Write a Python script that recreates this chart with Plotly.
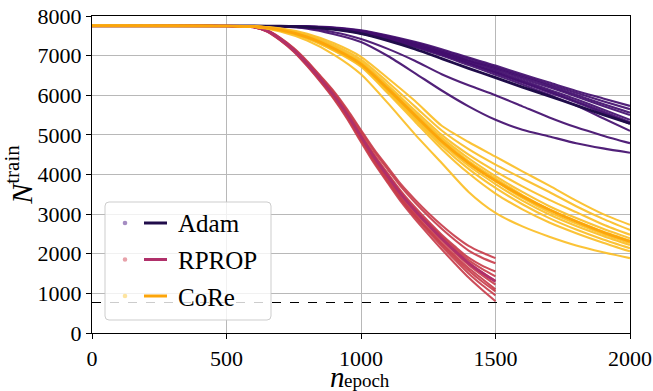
import numpy as np
import plotly.graph_objects as go

# ---------------- data ----------------
threshold = 770

adam_x = [0, 500, 600, 700, 800, 900, 1000, 1100, 1200, 1300, 1400, 1500, 1600, 1700, 1800, 1900, 2000]
adam_runs = [
    [7750, 7749, 7748, 7747, 7738, 7710, 7640, 7510, 7350, 7160, 6950, 6750, 6530, 6320, 6110, 5920, 5730],
    [7750, 7749, 7748, 7746, 7735, 7700, 7625, 7490, 7330, 7130, 6920, 6710, 6490, 6280, 6060, 5850, 5650],
    [7750, 7749, 7748, 7745, 7733, 7695, 7610, 7470, 7300, 7100, 6880, 6680, 6460, 6240, 6010, 5780, 5560],
    [7750, 7749, 7748, 7745, 7730, 7690, 7600, 7460, 7290, 7090, 6870, 6650, 6420, 6200, 5970, 5730, 5500],
    [7750, 7749, 7748, 7744, 7728, 7685, 7590, 7440, 7270, 7060, 6840, 6610, 6380, 6140, 5900, 5640, 5380],
    [7750, 7749, 7748, 7744, 7726, 7680, 7585, 7430, 7250, 7040, 6810, 6580, 6340, 6100, 5850, 5590, 5320],
    [7750, 7749, 7748, 7743, 7724, 7675, 7575, 7420, 7240, 7030, 6800, 6560, 6320, 6070, 5820, 5550, 5280],
    [7750, 7749, 7748, 7742, 7720, 7665, 7560, 7400, 7220, 7000, 6760, 6520, 6270, 6010, 5740, 5420, 5100],
    [7750, 7749, 7747, 7740, 7700, 7590, 7420, 7170, 6870, 6530, 6250, 6000, 5720, 5440, 5190, 4980, 4790],
    [7750, 7749, 7747, 7735, 7680, 7540, 7345, 6990, 6560, 6120, 5720, 5380, 5130, 4960, 4790, 4660, 4550],
]

rprop_x = [0, 500, 600, 650, 700, 750, 800, 850, 900, 950, 1000, 1050, 1100, 1150, 1200, 1250, 1300, 1350, 1400, 1450, 1500]
rprop_runs = [
    [7750, 7748, 7728, 7645, 7450, 7190, 6860, 6480, 6090, 5630, 5120, 4620, 4180, 3740, 3370, 3030, 2720, 2440, 2200, 2030, 1890],
    [7750, 7748, 7726, 7640, 7440, 7175, 6840, 6460, 6060, 5590, 5080, 4570, 4120, 3680, 3300, 2950, 2630, 2340, 2080, 1900, 1760],
    [7750, 7748, 7727, 7635, 7430, 7165, 6820, 6435, 6030, 5550, 5010, 4490, 4020, 3570, 3180, 2820, 2480, 2180, 1900, 1700, 1550],
    [7750, 7748, 7725, 7632, 7425, 7155, 6810, 6420, 6010, 5530, 4990, 4460, 3990, 3530, 3140, 2780, 2440, 2130, 1840, 1620, 1430],
    [7750, 7748, 7724, 7628, 7418, 7148, 6800, 6410, 6000, 5515, 4970, 4440, 3960, 3500, 3100, 2740, 2400, 2080, 1780, 1530, 1300],
    [7750, 7748, 7723, 7625, 7412, 7140, 6790, 6395, 5980, 5490, 4940, 4400, 3920, 3460, 3060, 2700, 2350, 2020, 1720, 1460, 1220],
    [7750, 7748, 7722, 7620, 7405, 7130, 6775, 6380, 5950, 5460, 4900, 4360, 3870, 3400, 3000, 2630, 2280, 1950, 1640, 1370, 1100],
    [7750, 7748, 7721, 7618, 7398, 7120, 6765, 6365, 5935, 5440, 4880, 4340, 3850, 3380, 2970, 2600, 2240, 1900, 1580, 1300, 1050],
    [7750, 7748, 7720, 7615, 7392, 7110, 6750, 6350, 5920, 5420, 4860, 4310, 3820, 3350, 2940, 2560, 2190, 1840, 1500, 1210, 950],
    [7750, 7748, 7719, 7610, 7385, 7100, 6735, 6330, 5895, 5390, 4820, 4270, 3780, 3300, 2880, 2490, 2110, 1750, 1400, 1090, 800],
]

core_x = [0, 500, 600, 700, 800, 900, 1000, 1100, 1200, 1300, 1400, 1500, 1600, 1700, 1800, 1900, 2000]
core_runs = [
    [7750, 7748, 7742, 7690, 7550, 7310, 6970, 6430, 5860, 5230, 4820, 4450, 4080, 3720, 3340, 3000, 2730],
    [7750, 7748, 7740, 7680, 7520, 7260, 6900, 6330, 5720, 5110, 4640, 4250, 3900, 3560, 3200, 2880, 2600],
    [7750, 7748, 7738, 7665, 7495, 7220, 6850, 6250, 5620, 5000, 4500, 4080, 3700, 3360, 3050, 2740, 2480],
    [7750, 7748, 7736, 7655, 7480, 7195, 6820, 6210, 5560, 4930, 4410, 3960, 3560, 3200, 2900, 2630, 2390],
    [7750, 7748, 7735, 7650, 7470, 7180, 6800, 6180, 5520, 4880, 4340, 3900, 3480, 3120, 2830, 2560, 2330],
    [7750, 7748, 7734, 7645, 7460, 7165, 6780, 6150, 5480, 4830, 4280, 3830, 3410, 3050, 2760, 2500, 2270],
    [7750, 7748, 7733, 7640, 7450, 7150, 6760, 6120, 5440, 4780, 4220, 3760, 3340, 2990, 2700, 2450, 2220],
    [7750, 7748, 7732, 7635, 7440, 7135, 6740, 6090, 5400, 4720, 4140, 3660, 3250, 2900, 2610, 2360, 2140],
    [7750, 7748, 7731, 7630, 7430, 7120, 6720, 6050, 5340, 4640, 4030, 3520, 3120, 2790, 2520, 2280, 2060],
    [7750, 7748, 7728, 7610, 7380, 7020, 6530, 5800, 5020, 4290, 3560, 3030, 2690, 2430, 2210, 2040, 1890],
]

labels = ["Adam", "RPROP", "CoRe"]
x_ticks = [0, 500, 1000, 1500, 2000]
y_ticks = [0, 1000, 2000, 3000, 4000, 5000, 6000, 7000, 8000]
x_title_main, x_title_sub = "n", "epoch"
y_title = "<i>N</i><sup>train</sup>"

# ---------------- style ----------------
run_colors = ["rgba(66,14,110,0.92)", "rgba(200,62,76,0.92)", "rgba(251,190,38,0.92)"]
mean_colors = ["#200c4a", "#b0306a", "#fca50a"]
dot_colors = ["#a58dc2", "#e8a2aa", "#fde4a0"]
FONT = "Liberation Serif"

W, H = 653, 391
L, R, T, B = 92, 23, 16, 58
PW, PH = W - L - R, H - T - B

def px(xp):
    return (xp - L) / PW

def py(yp):
    return (H - B - yp) / PH

fig = go.Figure()

groups = [(adam_x, adam_runs), (rprop_x, rprop_runs), (core_x, core_runs)]
for gi, (xs, runs) in enumerate(groups):
    for run in runs:
        fig.add_trace(go.Scatter(x=xs, y=run, mode="lines", showlegend=False,
                                 line=dict(color=run_colors[gi], width=2.1, shape="spline", smoothing=0.7),
                                 hoverinfo="skip"))
    mean = np.mean(np.array(runs), axis=0)
    fig.add_trace(go.Scatter(x=xs, y=mean, mode="lines", showlegend=False,
                             line=dict(color=mean_colors[gi], width=2.8, shape="spline", smoothing=0.7),
                             hoverinfo="skip"))

fig.add_trace(go.Scatter(x=[x_ticks[0], x_ticks[-1]], y=[threshold, threshold], mode="lines",
                         showlegend=False, line=dict(color="black", width=1.1, dash="dash"),
                         hoverinfo="skip"))

# ---------------- manual legend ----------------
bx0, bx1, by0, by1 = 105, 271, 202, 320
r = 4
rx, ry = r / PW, r / PH
X0, X1, Yt, Yb = px(bx0), px(bx1), py(by0), py(by1)
path = (f"M {X0+rx},{Yt} L {X1-rx},{Yt} Q {X1},{Yt} {X1},{Yt-ry} "
        f"L {X1},{Yb+ry} Q {X1},{Yb} {X1-rx},{Yb} L {X0+rx},{Yb} Q {X0},{Yb} {X0},{Yb+ry} "
        f"L {X0},{Yt-ry} Q {X0},{Yt} {X0+rx},{Yt} Z")
shapes = [dict(type="path", path=path, xref="paper", yref="paper",
               fillcolor="rgba(255,255,255,0.8)", line=dict(color="rgba(200,200,200,0.9)", width=1),
               layer="above")]
annotations = []
rows = [223, 259.5, 296]
for i, lab in enumerate(labels):
    yc = rows[i]
    shapes.append(dict(type="circle", xref="paper", yref="paper",
                       x0=px(125 - 2.3), x1=px(125 + 2.3), y0=py(yc + 2.3), y1=py(yc - 2.3),
                       fillcolor=dot_colors[i], line=dict(width=0), layer="above"))
    shapes.append(dict(type="line", xref="paper", yref="paper",
                       x0=px(144), x1=px(167), y0=py(yc), y1=py(yc),
                       line=dict(color=mean_colors[i], width=3), layer="above"))
    annotations.append(dict(text=lab, xref="paper", yref="paper", x=px(176), y=py(yc + 1),
                            xanchor="left", yanchor="middle", showarrow=False,
                            font=dict(family=FONT, size=25, color="black")))

# x-axis title (italic n with subscript) placed explicitly
annotations.append(dict(text=f"<i>{x_title_main}</i>", xref="paper", yref="paper", x=px(346), y=py(377),
                        xanchor="right", yanchor="middle", showarrow=False, borderpad=0,
                        font=dict(family=FONT, size=29, color="black")))
annotations.append(dict(text=x_title_sub, xref="paper", yref="paper", x=px(343), y=py(380),
                        xanchor="left", yanchor="middle", showarrow=False, borderpad=0,
                        font=dict(family=FONT, size=19, color="black")))

axis_common = dict(showline=True, linecolor="black", linewidth=1.3, mirror=True,
                   ticks="outside", ticklen=5, tickwidth=1.1, tickcolor="black",
                   showgrid=True, gridcolor="#b8b8b8", gridwidth=1, zeroline=False,
                   automargin=False,
                   tickfont=dict(family=FONT, size=22, color="black"))

fig.update_layout(
    width=W, height=H,
    margin=dict(l=L, r=R, t=T, b=B),
    paper_bgcolor="white", plot_bgcolor="white",
    font=dict(family=FONT, color="black"),
    xaxis=dict(range=[0, 2000], tickvals=x_ticks, ticktext=[str(v) for v in x_ticks],
               **axis_common),
    yaxis=dict(range=[0, 8000], tickvals=y_ticks, ticktext=[str(v) for v in y_ticks],
               title=dict(text=y_title, font=dict(family=FONT, size=30, color="black"),
                          standoff=4),
               **axis_common),
    shapes=shapes,
    annotations=annotations,
    showlegend=False,
)

fig.write_html("out.html")
